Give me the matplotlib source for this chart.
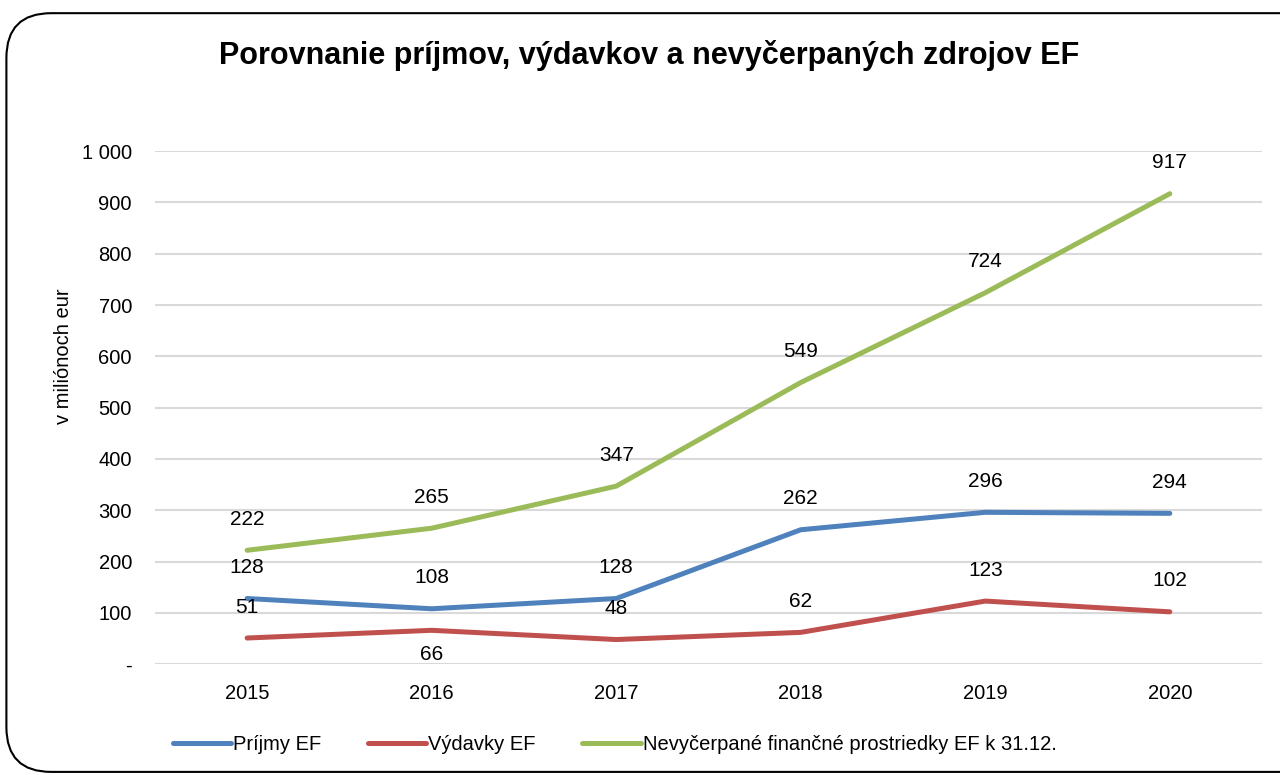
import matplotlib
matplotlib.use("Agg")
import matplotlib.pyplot as plt
from matplotlib.patches import FancyBboxPatch
from matplotlib.ticker import FuncFormatter

plt.rcParams['font.family'] = ['Liberation Sans', 'DejaVu Sans']

# data
years = ["2015", "2016", "2017", "2018", "2019", "2020"]
prijmy = [128, 108, 128, 262, 296, 294]
vydavky = [51, 66, 48, 62, 123, 102]
nevycerpane = [222, 265, 347, 549, 724, 917]
# label placed below the point (True) or above
vydavky_below = [False, True, False, False, False, False]

fig = plt.figure(figsize=(12.8, 7.75), dpi=100)
ax = fig.add_axes([0.121, 0.143, 0.865, 0.662])

x = range(len(years))
l1, = ax.plot(x, prijmy, color="#4F81BD", lw=3.6, solid_capstyle="round", label="Príjmy EF")
l2, = ax.plot(x, vydavky, color="#C0504D", lw=3.6, solid_capstyle="round", label="Výdavky EF")
l3, = ax.plot(x, nevycerpane, color="#9BBB59", lw=3.6, solid_capstyle="round",
              label="Nevyčerpané finančné prostriedky EF k 31.12.")

def label(xi, v, below=False):
    off = -24 if below else 31
    ax.annotate(str(v), (xi, v), xytext=(0, off), textcoords="offset pixels",
                ha="center", va="center", fontsize=15)

for i in x:
    label(i, prijmy[i])
    label(i, vydavky[i], vydavky_below[i])
    label(i, nevycerpane[i])

ax.set_xlim(-0.5, len(years) - 0.5)
ax.set_ylim(0, 1000)
ax.set_yticks(range(0, 1001, 100))
ax.yaxis.set_major_formatter(FuncFormatter(lambda v, p: "-" if v == 0 else f"{int(v):,}".replace(",", " ")))
ax.set_xticks(list(x))
ax.set_xticklabels(years)
ax.grid(axis="y", color="#D9D9D9", lw=1.5)
ax.set_axisbelow(True)
for s in ax.spines.values():
    s.set_visible(False)
ax.tick_params(length=0, labelsize=14.5, pad=14)
ax.tick_params(axis="y", pad=16.5)
ax.set_ylabel("v miliónoch eur", fontsize=14.5)
ax.yaxis.set_label_coords(-0.074, 0.6)

fig.suptitle("Porovnanie príjmov, výdavkov a nevyčerpaných zdrojov EF", x=0.507, y=0.948,
             fontsize=22, fontweight="bold")

fig.legend(handles=[l1, l2, l3], loc="center left", bbox_to_anchor=(0.121, 0.039), ncol=3,
           frameon=False, fontsize=14.5, handlelength=2.9, handletextpad=0.1, columnspacing=2.3)

border = FancyBboxPatch((0.005, 0.004), 1.2, 0.979, boxstyle="round,pad=0,rounding_size=0.035",
                        transform=fig.transFigure, fill=False, ec="black", lw=1.5,
                        mutation_aspect=1.65)
fig.patches.append(border)

fig.savefig("out.png", dpi=100)
